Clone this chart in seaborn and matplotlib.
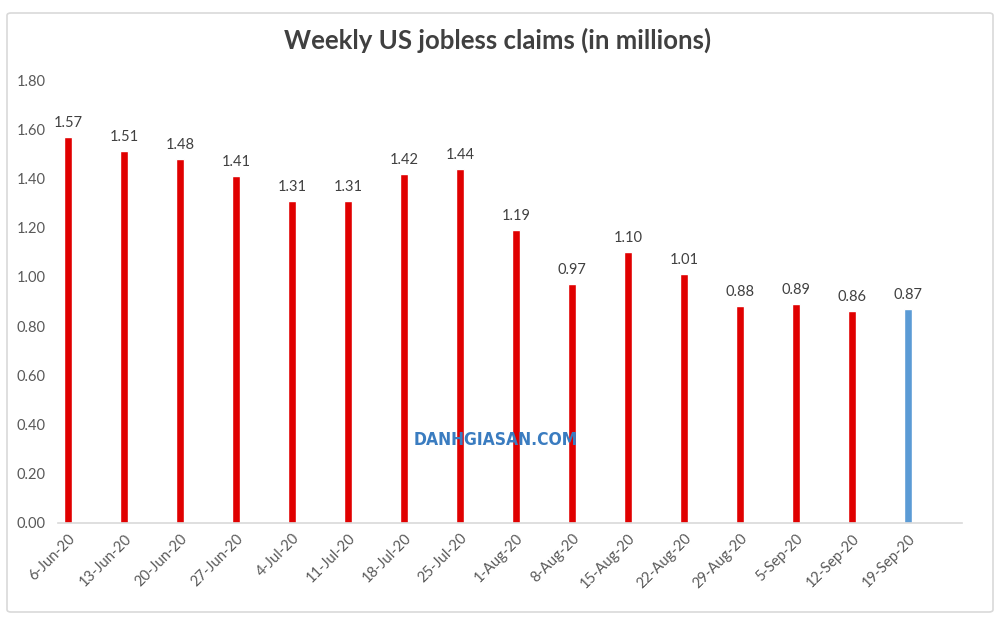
import matplotlib
matplotlib.use("Agg")
import matplotlib.pyplot as plt
import seaborn as sns
import pandas as pd
from matplotlib.patches import FancyBboxPatch

weeks = ["6-Jun-20", "13-Jun-20", "20-Jun-20", "27-Jun-20", "4-Jul-20", "11-Jul-20",
         "18-Jul-20", "25-Jul-20", "1-Aug-20", "8-Aug-20", "15-Aug-20", "22-Aug-20",
         "29-Aug-20", "5-Sep-20", "12-Sep-20", "19-Sep-20"]
claims = [1.57, 1.51, 1.48, 1.41, 1.31, 1.31, 1.42, 1.44, 1.19, 0.97, 1.10, 1.01,
          0.88, 0.89, 0.86, 0.87]
y_ticks = [0.0, 0.2, 0.4, 0.6, 0.8, 1.0, 1.2, 1.4, 1.6, 1.8]

RED = "#E00000"
BLUE = "#5B9BD5"
colors = [RED] * (len(weeks) - 1) + [BLUE]

sns.set_theme(style="white")
plt.rcParams["font.family"] = ["Lato", "DejaVu Sans"]

df = pd.DataFrame({"week": weeks, "claims": claims})

fig = plt.figure(figsize=(10, 6.25), dpi=100)
ax = fig.add_axes([0.058, 1 - 523 / 625, 0.904, (523 - 80) / 625])

sns.barplot(data=df, x="week", y="claims", hue="week", palette=colors,
            legend=False, width=0.15, ax=ax, dodge=False, saturation=1)

for cont in ax.containers:
    ax.bar_label(cont, fmt="%.2f", padding=5, fontsize=10.5, color="#404040")

ax.set_ylim(0, 1.8)
ax.set_xlim(-0.18, 15.96)
ax.set_yticks(y_ticks)
ax.set_yticklabels([f"{v:.2f}" for v in y_ticks], fontsize=10.5, color="#595959")
ax.set_xticks(range(len(weeks)))
ax.set_xticklabels(weeks, rotation=45, ha="right", rotation_mode="anchor",
                   fontsize=10.5, color="#595959")
ax.tick_params(axis="y", length=0, pad=9)
ax.tick_params(axis="x", length=0, pad=6)
ax.set_xlabel("")
ax.set_ylabel("")
for s in ["top", "right", "left"]:
    ax.spines[s].set_visible(False)
ax.spines["bottom"].set_color("#d9d9d9")
ax.spines["bottom"].set_linewidth(1.2)
ax.grid(False)

fig.text(0.498, 1 - 40 / 625, "Weekly US jobless claims (in millions)",
         ha="center", va="center", fontsize=18.5, fontweight="bold", color="#404040")

fig.text(0.496, 1 - 440 / 625, "DANHGIASAN.COM", ha="center", va="center",
         fontsize=12.5, fontweight="bold", color="#3a7cc0",
         family=["Liberation Sans Narrow", "DejaVu Sans"], fontstretch="condensed")

border = FancyBboxPatch((7 / 1000, 13 / 625), 986 / 1000, 599 / 625,
                        boxstyle="round,pad=0,rounding_size=0.004",
                        transform=fig.transFigure, fill=False,
                        edgecolor="#d9d9d9", linewidth=1.2)
fig.patches.append(border)

fig.savefig("out.png", dpi=100)
